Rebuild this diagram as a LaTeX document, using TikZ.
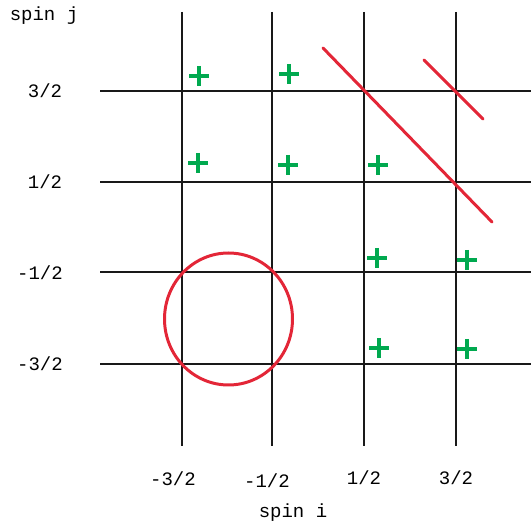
\documentclass[tikz,border=0pt]{standalone}
\usepackage{fontspec}
\setmonofont{Liberation Mono}
\definecolor{cred}{HTML}{E32637}
\definecolor{cgreen}{HTML}{00A94F}
\begin{document}
\begin{tikzpicture}[x=1pt,y=-1pt,
  gridline/.style={line width=1.4pt,black!90},
  redline/.style={line width=3pt,cred,line cap=round},
  plus/.style={line width=3.6pt,cgreen},
  lbl/.style={font=\ttfamily\fontsize{19}{21}\selectfont,inner sep=0pt}]
\useasboundingbox (0,0) rectangle (531,526);
% grid
\foreach \x in {182,272,364,456} \draw[gridline] (\x,12) -- (\x,446);
\foreach \y in {91,182,272,364} \draw[gridline] (100,\y) -- (531,\y);
% red marks
\draw[redline] (323,48) -- (492,222);
\draw[redline] (424,60) -- (483,119);
\draw[redline] (228.5,319) ellipse [x radius=64,y radius=66];
% green plus signs
\foreach \px/\py in {199/76,289/74,198/163,288/165,378/165,377/258,467/260,379/348,467/349}
  \draw[plus] (\px-10,\py) -- (\px+10,\py) (\px,\py-10) -- (\px,\py+10);
% labels
\node[lbl] (sj) at (44,16) {spin j};
\node[lbl] (j1) at (45,91) {3/2};
\node[lbl] (j2) at (45,182) {1/2};
\node[lbl] (j3) at (40,273) {-1/2};
\node[lbl] (j4) at (40,364) {-3/2};
\node[lbl] (i1) at (173,479) {-3/2};
\node[lbl] (i2) at (267,481) {-1/2};
\node[lbl] (i3) at (364,478) {1/2};
\node[lbl] (i4) at (456,478) {3/2};
\node[lbl] (si) at (293,513) {spin i};
\end{tikzpicture}
\end{document}
